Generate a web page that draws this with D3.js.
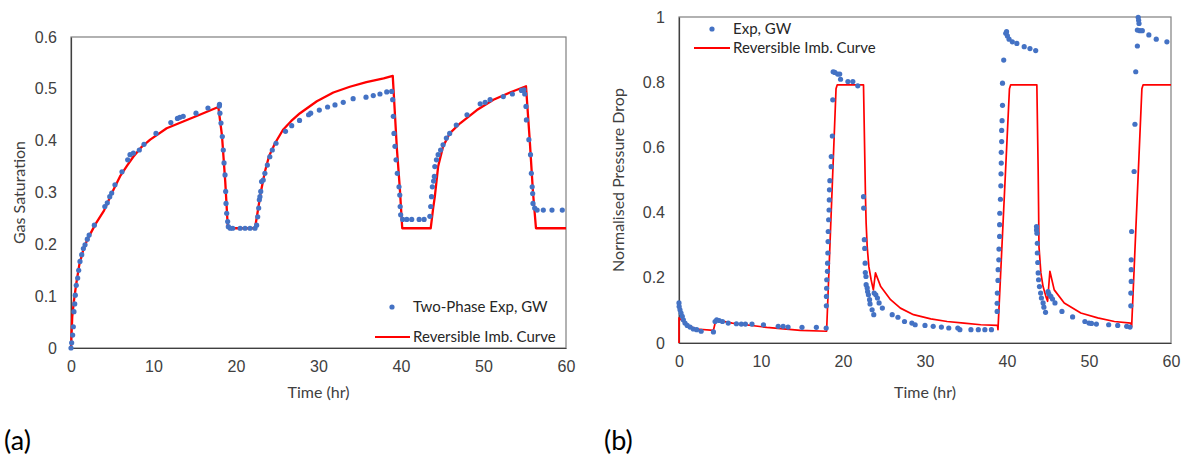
<!DOCTYPE html>
<html>
<head>
<meta charset="utf-8">
<script src="https://cdn.jsdelivr.net/npm/d3@7"></script>
<style>
  body { margin: 0; background: #fff; }
  svg { font-family: Lato, "Open Sans", sans-serif; }
</style>
</head>
<body>
<div id="chart"></div>
<script>
// (a) gas saturation, experiment
const satExpTime = [0, 0.08, 0.2, 0.28, 0.36, 0.45, 0.52, 0.64, 0.81, 0.93, 1.09, 1.3, 1.5, 1.7, 1.98, 2.2, 2.83, 4.1, 4.4, 4.7, 4.93, 5.33, 6.18, 6.87, 7.15, 7.56, 8.28, 8.85, 10.3, 12.1, 12.9, 13.2, 13.6, 15.15, 16.6, 17.98, 18.0, 18.05, 18.18, 18.34, 18.46, 18.55, 18.67, 18.75, 18.79, 18.87, 18.99, 19.07, 19.3, 19.6, 20.5, 21.1, 21.7, 22.3, 22.5, 22.63, 22.75, 22.83, 22.9, 23.0, 23.1, 23.3, 23.5, 23.8, 24.1, 24.4, 24.85, 26.0, 26.75, 27.7, 28.8, 29.05, 30.1, 31.1, 32.0, 33.0, 34.2, 35.76, 36.64, 37.45, 38.27, 38.87, 38.99, 39.07, 39.15, 39.27, 39.4, 39.55, 39.76, 39.85, 39.9, 39.96, 40.2, 40.7, 41.3, 42.2, 42.8, 43.5, 43.6, 43.7, 43.8, 43.95, 44.04, 44.1, 44.3, 44.5, 44.8, 45.1, 45.5, 45.9, 46.7, 48.0, 49.6, 50.2, 50.8, 52.4, 53.5, 54.6, 54.9, 55.0, 55.15, 55.2, 55.5, 55.7, 55.8, 55.9, 55.96, 56.0, 56.2, 56.5, 57.25, 58.3, 59.55];
const satExp = [0, 0.01, 0.025, 0.041, 0.07, 0.085, 0.102, 0.121, 0.135, 0.15, 0.167, 0.18, 0.192, 0.199, 0.21, 0.218, 0.237, 0.273, 0.28, 0.292, 0.299, 0.315, 0.34, 0.363, 0.373, 0.376, 0.382, 0.393, 0.414, 0.435, 0.443, 0.445, 0.447, 0.453, 0.463, 0.467, 0.47, 0.453, 0.434, 0.408, 0.382, 0.357, 0.334, 0.302, 0.279, 0.26, 0.244, 0.234, 0.231, 0.231, 0.231, 0.231, 0.231, 0.231, 0.237, 0.253, 0.27, 0.286, 0.292, 0.302, 0.321, 0.324, 0.337, 0.353, 0.369, 0.382, 0.395, 0.418, 0.429, 0.439, 0.45, 0.453, 0.459, 0.465, 0.469, 0.474, 0.481, 0.484, 0.487, 0.49, 0.494, 0.495, 0.479, 0.447, 0.414, 0.389, 0.363, 0.337, 0.311, 0.295, 0.273, 0.257, 0.248, 0.248, 0.248, 0.248, 0.248, 0.254, 0.273, 0.292, 0.311, 0.322, 0.331, 0.35, 0.363, 0.373, 0.382, 0.392, 0.405, 0.414, 0.43, 0.45, 0.471, 0.474, 0.479, 0.485, 0.49, 0.497, 0.498, 0.49, 0.466, 0.44, 0.402, 0.373, 0.337, 0.311, 0.298, 0.279, 0.27, 0.266, 0.266, 0.266, 0.266];

// (a) reversible imbibition curve
const satModelTime = [0, 0.15, 0.35, 0.6, 1.0, 1.5, 2.0, 3.0, 4.0, 5.13, 5.94, 6.8, 7.55, 8.5, 9.6, 11.6, 13.6, 15.6, 17.86, 18.3, 18.7, 19.0, 19.15, 22.3, 22.6, 23.0, 23.5, 24.0, 24.73, 25.7, 26.7, 27.76, 29.8, 31.8, 33.8, 35.8, 37.9, 39.0, 39.5, 39.85, 40.15, 43.6, 43.9, 44.1, 44.5, 45.1, 45.9, 47.2, 49.2, 51.2, 53.2, 55.15, 55.6, 56.0, 56.36, 60];
const satModel = [0, 0.06, 0.09, 0.12, 0.16, 0.19, 0.21, 0.24, 0.265, 0.305, 0.331, 0.352, 0.369, 0.387, 0.402, 0.424, 0.437, 0.45, 0.465, 0.41, 0.32, 0.235, 0.231, 0.231, 0.26, 0.3, 0.34, 0.37, 0.395, 0.421, 0.438, 0.453, 0.476, 0.493, 0.504, 0.513, 0.52, 0.525, 0.385, 0.31, 0.231, 0.231, 0.27, 0.292, 0.35, 0.389, 0.414, 0.434, 0.459, 0.479, 0.493, 0.505, 0.402, 0.3, 0.231, 0.231];

// (b) normalised pressure drop, experiment
const dpExpTime = [0, 0.02, 0.12, 0.25, 0.4, 0.53, 0.73, 1.0, 1.35, 1.75, 2.16, 2.7, 4.2, 4.4, 4.6, 4.9, 5.3, 6.0, 7.0, 7.6, 8.1, 8.9, 10.3, 12.1, 12.7, 13.3, 15.0, 16.75, 17.95, 17.97, 17.98, 18.0, 18.02, 18.1, 18.12, 18.15, 18.18, 18.2, 18.25, 18.3, 18.33, 18.35, 18.4, 18.55, 18.57, 18.7, 18.75, 18.8, 19.0, 19.35, 19.6, 19.7, 20.6, 21.2, 21.8, 22.5, 22.52, 22.6, 22.65, 22.7, 22.72, 22.8, 22.82, 22.95, 23.0, 23.1, 23.24, 23.3, 23.55, 23.75, 23.8, 24.0, 24.2, 24.4, 24.8, 26.0, 26.7, 27.5, 28.4, 28.8, 30.0, 31.0, 32.0, 32.9, 34.0, 34.25, 35.6, 36.5, 37.3, 38.1, 38.8, 38.8, 38.82, 38.9, 38.92, 39.0, 39.02, 39.1, 39.1, 39.12, 39.2, 39.25, 39.27, 39.3, 39.3, 39.35, 39.35, 39.4, 39.45, 39.45, 39.6, 39.85, 39.95, 40.05, 40.25, 40.65, 41.2, 42.1, 42.8, 43.5, 43.6, 43.6, 43.65, 43.7, 43.7, 43.75, 43.8, 43.85, 43.96, 44.1, 44.2, 44.4, 44.5, 44.7, 45.0, 45.1, 45.35, 45.55, 45.85, 46.7, 48.0, 49.5, 50.0, 50.3, 50.9, 52.4, 53.5, 54.6, 55.0, 55.1, 55.1, 55.15, 55.15, 55.15, 55.2, 55.5, 55.6, 55.7, 55.9, 55.9, 56.0, 56.05, 56.1, 56.2, 56.5, 57.3, 58.2, 59.5];
const dpExp = [0.123, 0.112, 0.102, 0.092, 0.082, 0.071, 0.061, 0.054, 0.049, 0.043, 0.041, 0.036, 0.034, 0.066, 0.071, 0.069, 0.066, 0.061, 0.059, 0.058, 0.058, 0.058, 0.056, 0.051, 0.051, 0.049, 0.048, 0.048, 0.046, 0.114, 0.143, 0.168, 0.194, 0.22, 0.245, 0.276, 0.311, 0.342, 0.378, 0.408, 0.439, 0.47, 0.498, 0.541, 0.572, 0.635, 0.746, 0.832, 0.83, 0.825, 0.825, 0.809, 0.802, 0.802, 0.789, 0.449, 0.414, 0.317, 0.29, 0.245, 0.216, 0.204, 0.179, 0.169, 0.158, 0.148, 0.133, 0.12, 0.102, 0.087, 0.153, 0.148, 0.138, 0.123, 0.107, 0.087, 0.079, 0.066, 0.061, 0.056, 0.054, 0.051, 0.049, 0.046, 0.046, 0.041, 0.041, 0.041, 0.041, 0.041, 0.097, 0.122, 0.153, 0.192, 0.225, 0.255, 0.288, 0.327, 0.363, 0.398, 0.441, 0.482, 0.519, 0.552, 0.585, 0.618, 0.652, 0.682, 0.729, 0.797, 0.868, 0.95, 0.955, 0.942, 0.932, 0.924, 0.919, 0.909, 0.903, 0.897, 0.357, 0.347, 0.337, 0.306, 0.276, 0.247, 0.215, 0.194, 0.173, 0.153, 0.138, 0.123, 0.11, 0.094, 0.158, 0.151, 0.143, 0.135, 0.123, 0.097, 0.08, 0.066, 0.061, 0.06, 0.058, 0.056, 0.054, 0.051, 0.049, 0.114, 0.153, 0.189, 0.225, 0.255, 0.342, 0.526, 0.671, 0.832, 0.911, 0.96, 0.999, 0.99, 0.98, 0.958, 0.958, 0.945, 0.932, 0.924];

// (b) reversible imbibition curve
const dpModelTime = [0, 0, 0.94, 2.1, 4.2, 4.5, 6.5, 10.7, 14.8, 18.0, 19.15, 19.3, 22.5, 22.74, 22.82, 22.95, 23.15, 23.43, 23.7, 23.96, 24.6, 25.8, 27.0, 28.6, 30.7, 32.7, 34.75, 36.8, 38.84, 38.9, 40.3, 40.45, 43.64, 43.8, 43.85, 43.9, 44.13, 44.4, 44.74, 44.95, 45.23, 45.76, 46.98, 49.0, 51.06, 53.1, 55.1, 55.2, 56.45, 56.6, 60];
const dpModel = [0, 0.077, 0.056, 0.043, 0.039, 0.071, 0.061, 0.048, 0.039, 0.036, 0.78, 0.792, 0.792, 0.449, 0.368, 0.296, 0.235, 0.194, 0.163, 0.215, 0.173, 0.133, 0.107, 0.087, 0.074, 0.066, 0.061, 0.056, 0.054, 0.041, 0.78, 0.792, 0.792, 0.531, 0.419, 0.296, 0.215, 0.173, 0.143, 0.128, 0.22, 0.163, 0.123, 0.092, 0.077, 0.066, 0.061, 0.05, 0.78, 0.792, 0.792];

const xTicks = [0, 10, 20, 30, 40, 50, 60];
const satTicks = [0, 0.1, 0.2, 0.3, 0.4, 0.5, 0.6];
const dpTicks = [0, 0.2, 0.4, 0.6, 0.8, 1];

const width = 1185;
const height = 460;
const dotColor = "#4472C4";
const lineColor = "#FF0000";
const textColor = "#404040";

const svg = d3.select("#chart").append("svg").attr("width", width).attr("height", height);

function drawPanel(opt) {
  const x = d3.scaleLinear().domain([0, 60]).range([opt.left, opt.right]);
  const y = d3.scaleLinear().domain([0, opt.yMax]).range([opt.bottom, opt.top]);
  const g = svg.append("g");

  // frame
  g.append("rect")
    .attr("x", opt.left)
    .attr("y", opt.top)
    .attr("width", opt.right - opt.left)
    .attr("height", opt.bottom - opt.top)
    .attr("fill", "none")
    .attr("stroke", "#7f7f7f")
    .attr("stroke-width", 1.2);

  g.append("g")
    .attr("transform", `translate(0,${opt.bottom})`)
    .call(d3.axisBottom(x).tickValues(xTicks).tickSize(0).tickPadding(13).tickFormat(d3.format("d")))
    .call((a) => a.select(".domain").attr("stroke", "#404040").attr("stroke-width", 1.2))
    .call((a) => a.selectAll("text").attr("fill", textColor).style("font-size", "16px"));

  g.append("g")
    .attr("transform", `translate(${opt.left},0)`)
    .call(d3.axisLeft(y).tickValues(opt.yTicks).tickSize(0).tickPadding(14).tickFormat((d) => d))
    .call((a) => a.select(".domain").attr("stroke", "#404040").attr("stroke-width", 1.2))
    .call((a) => a.selectAll("text").attr("fill", textColor).style("font-size", "16px"));

  // axis titles
  g.append("text")
    .attr("x", (opt.left + opt.right) / 2)
    .attr("y", 398)
    .attr("text-anchor", "middle")
    .attr("fill", textColor)
    .style("font-size", "16px")
    .text("Time (hr)");
  g.append("text")
    .attr("transform", `translate(${opt.titleX},${(opt.top + opt.bottom) / 2}) rotate(-90)`)
    .attr("text-anchor", "middle")
    .attr("fill", textColor)
    .style("font-size", "16px")
    .text(opt.yTitle);

  // model curve
  const line = d3.line().x((d) => x(d[0])).y((d) => y(d[1]));
  g.append("path")
    .datum(d3.zip(opt.modelTime, opt.model))
    .attr("fill", "none")
    .attr("stroke", lineColor)
    .attr("stroke-width", opt.lineWidth)
    .attr("stroke-linejoin", "round")
    .attr("d", line);

  // experiment points
  g.append("g")
    .selectAll("circle")
    .data(d3.zip(opt.expTime, opt.exp))
    .join("circle")
    .attr("cx", (d) => x(d[0]))
    .attr("cy", (d) => y(d[1]))
    .attr("r", 2.6)
    .attr("fill", dotColor);

  // legend
  const lg = g.append("g").attr("transform", `translate(${opt.legendX},${opt.legendY})`);
  lg.append("circle").attr("cx", opt.dotX).attr("cy", 0).attr("r", 2.6).attr("fill", dotColor);
  lg.append("text").attr("x", 0).attr("y", 5).attr("fill", "#262626").style("font-size", "15px").text(opt.expLabel);
  lg.append("line")
    .attr("x1", opt.lineX1).attr("x2", -3)
    .attr("y1", opt.legendGap).attr("y2", opt.legendGap)
    .attr("stroke", lineColor).attr("stroke-width", 2.2);
  lg.append("text").attr("x", 0).attr("y", opt.legendGap + 5).attr("fill", "#262626").style("font-size", "15px").text("Reversible Imb. Curve");

  svg.append("text")
    .attr("x", opt.tagX)
    .attr("y", 450)
    .attr("fill", "#000")
    .style("font-size", "27px")
    .text(opt.tag);
}

drawPanel({
  left: 71, right: 566, top: 37, bottom: 348,
  yMax: 0.6, yTicks: satTicks, yTitle: "Gas Saturation", titleX: 25,
  expTime: satExpTime, exp: satExp, modelTime: satModelTime, model: satModel,
  lineWidth: 2.3,
  legendX: 413, legendY: 307, legendGap: 30, dotX: -21, lineX1: -38,
  expLabel: "Two-Phase Exp, GW",
  tag: "(a)", tagX: 4
});

drawPanel({
  left: 679, right: 1171, top: 17, bottom: 343,
  yMax: 1, yTicks: dpTicks, yTitle: "Normalised Pressure Drop", titleX: 624,
  expTime: dpExpTime, exp: dpExp, modelTime: dpModelTime, model: dpModel,
  lineWidth: 1.7,
  legendX: 733, legendY: 29, legendGap: 19, dotX: -21, lineX1: -39,
  expLabel: "Exp, GW",
  tag: "(b)", tagX: 604
});
</script>
</body>
</html>
